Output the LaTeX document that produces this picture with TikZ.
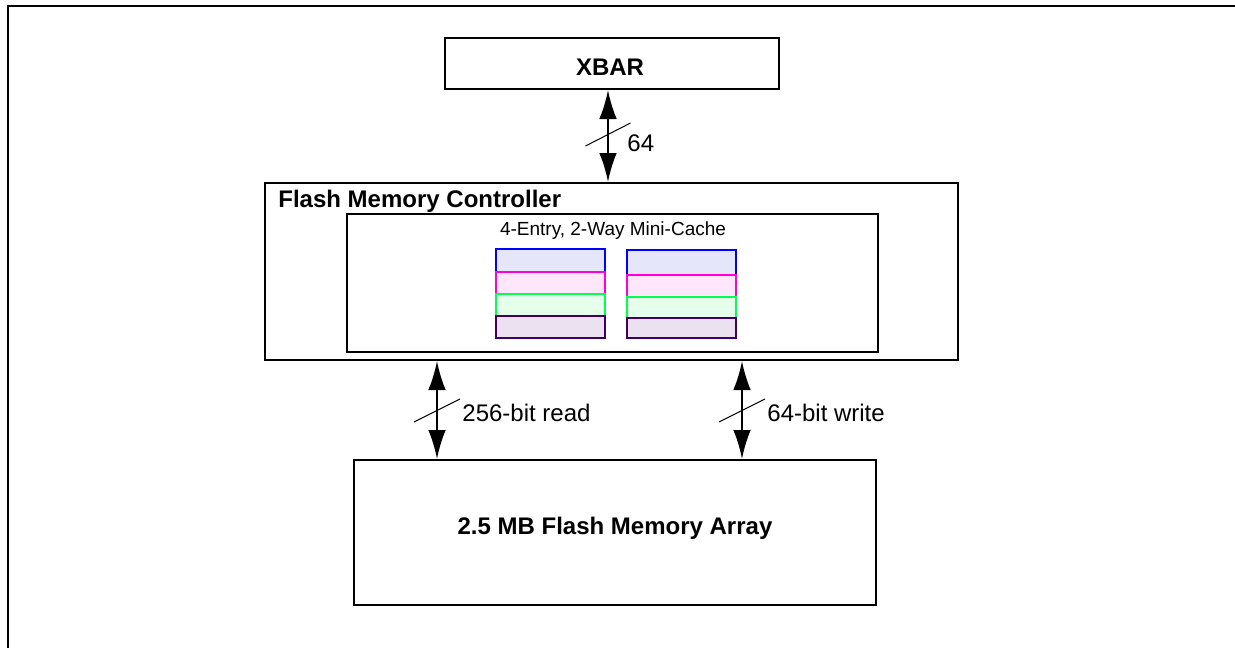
\documentclass[tikz,border=0pt]{standalone}
\usepackage{fontspec}
\setmainfont{Liberation Sans}
\usetikzlibrary{arrows.meta, calc}
\definecolor{cellBlue}{RGB}{0,0,255}
\definecolor{cellBlueFill}{RGB}{230,230,250}
\definecolor{cellPink}{RGB}{255,0,220}
\definecolor{cellPinkFill}{RGB}{255,230,250}
\definecolor{cellGreen}{RGB}{0,255,80}
\definecolor{cellGreenFill}{RGB}{230,255,235}
\definecolor{cellPurple}{RGB}{64,0,96}
\definecolor{cellPurpleFill}{RGB}{235,225,240}

\begin{document}
\begin{tikzpicture}[x=0.5pt, y=-0.5pt,
    box/.style={draw=black, line width=1pt, fill=white, inner sep=0pt},
    bus/.style={{Latex[length=14.5pt, width=8.8pt]}-{Latex[length=14.5pt, width=8.8pt]}, line width=1pt},
    slash/.style={line width=0.5pt},
    cell/.style={fill=cell#1Fill, draw=cell#1, line width=0.7pt},
    bigbold/.style={font=\fontsize{12}{14}\selectfont\bfseries},
    buslabel/.style={anchor=west, inner sep=0pt, font=\fontsize{12}{14}\selectfont}]
    \useasboundingbox (0,0) rectangle (1235,648);

    % FRAME
    \draw[line width=1pt] (1235,6) -- (8,6) -- (8,648);

    % BLOCKS
    % XBAR
    \node[box, bigbold, minimum width=167pt, minimum height=25.5pt] (xbar) at (612,63.5) {};
    \node[bigbold, inner sep=0pt] (xbarLabel) at (610,67) {XBAR};

    % Flash memory controller
    \node[box, minimum width=346.5pt, minimum height=88.5pt] (ctrl) at (611.5,271.5) {};
    \node[bigbold, anchor=west, inner sep=0pt] (ctrlLabel) at (278,201) {Flash Memory Controller};

    % Mini-cache
    \node[box, minimum width=265.5pt, minimum height=69pt] (cache) at (612.5,283) {};
    \node[inner sep=0pt, font=\fontsize{9.5}{11}\selectfont] (cacheLabel) at (613,231) {4-Entry, 2-Way Mini-Cache};
    \foreach \la/\lb/\ra/\rb/\c in {249/272/250/275/Blue, 272/294/275/297/Pink,
                                   294/316/297/318/Green, 316/338/318/338/Purple} {
        \filldraw[cell=\c] (496,\la) rectangle (605,\lb);
        \filldraw[cell=\c] (627,\ra) rectangle (736,\rb);
    }

    % Flash memory array
    \node[box, minimum width=261pt, minimum height=72.5pt] (array) at (615,532.5) {};
    \node[bigbold, inner sep=0pt] (arrayLabel) at (615,528) {2.5 MB Flash Memory Array};

    % BUSES
    \coordinate (xbX) at (608,0);
    \coordinate (rdX) at (437,0);
    \coordinate (wrX) at (742,0);

    % XBAR <-> controller
    \draw[bus] (xbar.south -| xbX) -- (ctrl.north -| xbX) coordinate[midway] (xbMid);
    \draw[slash] ($(xbMid)+(-22.5,10)$) -- ($(xbMid)+(22.5,-13)$);
    \node[buslabel] (xbLabel) at ($(xbMid)+(19,7)$) {64};

    % Controller <-> array (read)
    \draw[bus] (ctrl.south -| rdX) -- (array.north -| rdX) coordinate[midway] (rdMid);
    \draw[slash] ($(rdMid)+(-23,12)$) -- ($(rdMid)+(23,-11)$);
    \node[buslabel] (rdLabel) at ($(rdMid)+(25,3)$) {256-bit read};

    % Controller <-> array (write)
    \draw[bus] (ctrl.south -| wrX) -- (array.north -| wrX) coordinate[midway] (wrMid);
    \draw[slash] ($(wrMid)+(-23,12)$) -- ($(wrMid)+(23,-11)$);
    \node[buslabel] (wrLabel) at ($(wrMid)+(25,3)$) {64-bit write};
\end{tikzpicture}
\end{document}
